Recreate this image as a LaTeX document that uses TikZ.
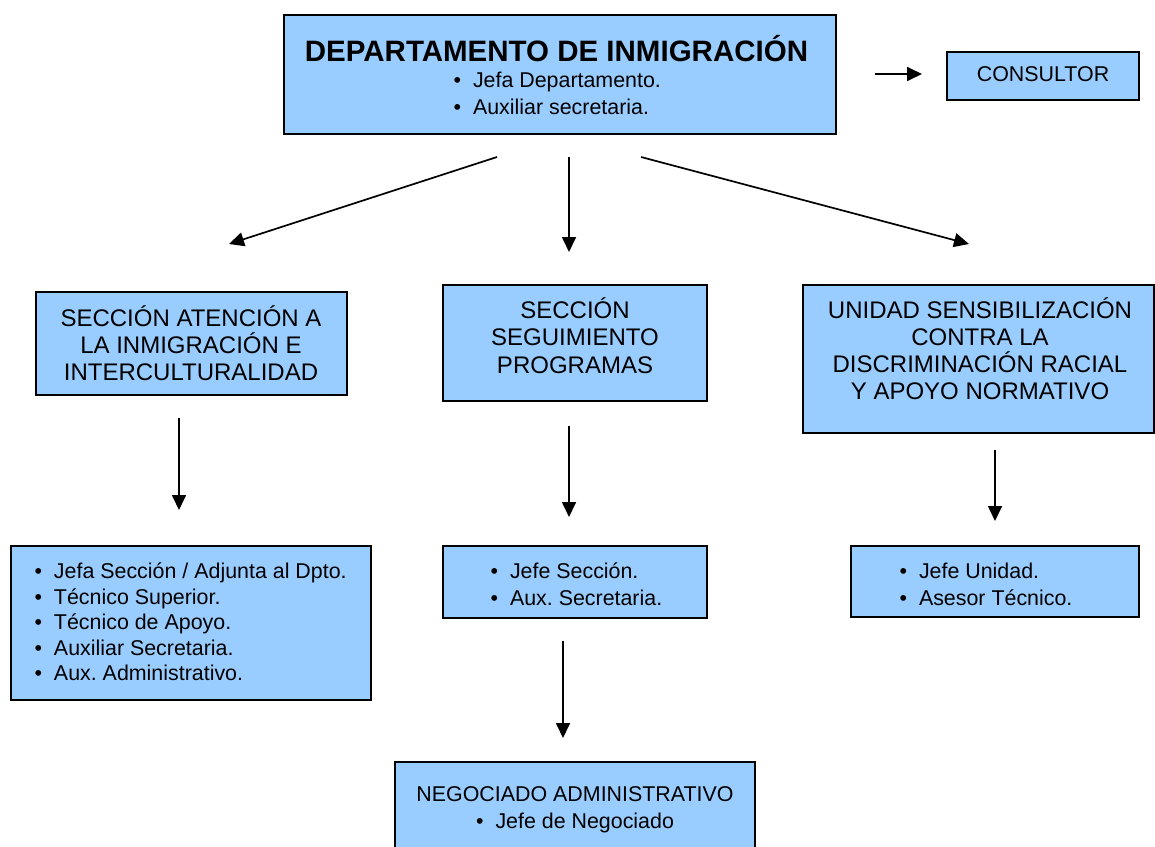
\documentclass[tikz,border=0pt]{standalone}
\usepackage{fontspec}
\setmainfont{Liberation Sans}
\usetikzlibrary{arrows.meta}
\definecolor{boxblue}{HTML}{99CCFF}
\frenchspacing
\newcommand{\bl}[1]{\makebox[19.5pt][l]{\textbullet}#1}
\newcommand{\clines}[1]{\vtop{\lineskiplimit=-100pt\halign{\hfil##\hfil\cr #1\crcr}}}
\newcommand{\llines}[1]{\vtop{\lineskiplimit=-100pt\halign{##\hfil\cr #1\crcr}}}
\begin{document}
\begin{tikzpicture}[x=1pt,y=-1pt,
  box/.style={draw=black,line width=1.6pt,fill=boxblue,inner sep=0pt,rectangle},
  txt/.style={inner sep=0pt,font=\fontsize{21.4}{27}\selectfont},
  head/.style={inner sep=0pt,font=\fontsize{24}{27.2}\selectfont},
  arr/.style={line width=1.7pt,-{Triangle[length=15pt,width=14pt]}}]
\useasboundingbox (0,0) rectangle (1155,846);

% boxes
\node[box,minimum width=552pt,minimum height=119pt] (dep) at (560,74.5) {};
\node[box,minimum width=192pt,minimum height=48pt] (cons) at (1043,76) {};
\node[box,minimum width=311pt,minimum height=103pt] (s1) at (191.5,343.5) {};
\node[box,minimum width=264pt,minimum height=116pt] (s2) at (575,343) {};
\node[box,minimum width=351pt,minimum height=148pt] (s3) at (978.5,359) {};
\node[box,minimum width=360pt,minimum height=154pt] (l1) at (191,623) {};
\node[box,minimum width=264pt,minimum height=72pt] (l2) at (575,582) {};
\node[box,minimum width=288pt,minimum height=71pt] (l3) at (995,581.5) {};
\node[box,minimum width=360pt,minimum height=100pt] (neg) at (575,812) {};

% texts
\node[txt,anchor=base,font=\fontsize{29.5}{33}\selectfont\bfseries] (deptitle) at (556.5,61.6) {DEPARTAMENTO DE INMIGRACIÓN};
\node[txt,anchor=base west] (deplist) at (453.3,87.5) {\llines{\bl{Jefa Departamento.}\cr\bl{Auxiliar secretaria.}}};
\node[txt,anchor=base] (constxt) at (1043,81.5) {CONSULTOR};
\node[head,anchor=base] (s1txt) at (191,326.2) {\clines{SECCIÓN ATENCIÓN A\cr LA INMIGRACIÓN E\cr INTERCULTURALIDAD}};
\node[head,anchor=base] (s2txt) at (575,318.6) {\clines{SECCIÓN\cr SEGUIMIENTO\cr PROGRAMAS}};
\node[head,anchor=base] (s3txt) at (980,318.2) {\clines{UNIDAD SENSIBILIZACIÓN\cr CONTRA LA\cr DISCRIMINACIÓN RACIAL\cr Y APOYO NORMATIVO}};
\node[txt,anchor=base west,font=\fontsize{21.4}{25.5}\selectfont] (l1txt) at (34.3,578.5) {\llines{\bl{Jefa Sección / Adjunta al Dpto.}\cr\bl{Técnico Superior.}\cr\bl{Técnico de Apoyo.}\cr\bl{Auxiliar Secretaria.}\cr\bl{Aux. Administrativo.}}};
\node[txt,anchor=base west] (l2txt) at (490.3,578.5) {\llines{\bl{Jefe Sección.}\cr\bl{Aux. Secretaria.}}};
\node[txt,anchor=base west] (l3txt) at (899.3,578.5) {\llines{\bl{Jefe Unidad.}\cr\bl{Asesor Técnico.}}};
\node[txt,anchor=base] (negtxt) at (575,801.5) {\clines{NEGOCIADO ADMINISTRATIVO\cr\bl{Jefe de Negociado}}};

% connector ends
\coordinate (c0s) at (875,74);   \coordinate (c0e) at (922,74);
\coordinate (c1s) at (497,157);  \coordinate (c1e) at (229,244);
\coordinate (c2s) at (569,157);  \coordinate (c2e) at (569,252);
\coordinate (c3s) at (641,157);  \coordinate (c3e) at (969,244);
\coordinate (c4s) at (179,418);  \coordinate (c4e) at (179,510);
\coordinate (c5s) at (569,426);  \coordinate (c5e) at (569,517);
\coordinate (c6s) at (995,450);  \coordinate (c6e) at (995,521);
\coordinate (c7s) at (563,641);  \coordinate (c7e) at (563,738);

\draw[arr] (c0s) -- (c0e);
\draw[arr] (c1s) -- (c1e);
\draw[arr] (c2s) -- (c2e);
\draw[arr] (c3s) -- (c3e);
\draw[arr] (c4s) -- (c4e);
\draw[arr] (c5s) -- (c5e);
\draw[arr] (c6s) -- (c6e);
\draw[arr] (c7s) -- (c7e);
\end{tikzpicture}
\end{document}
